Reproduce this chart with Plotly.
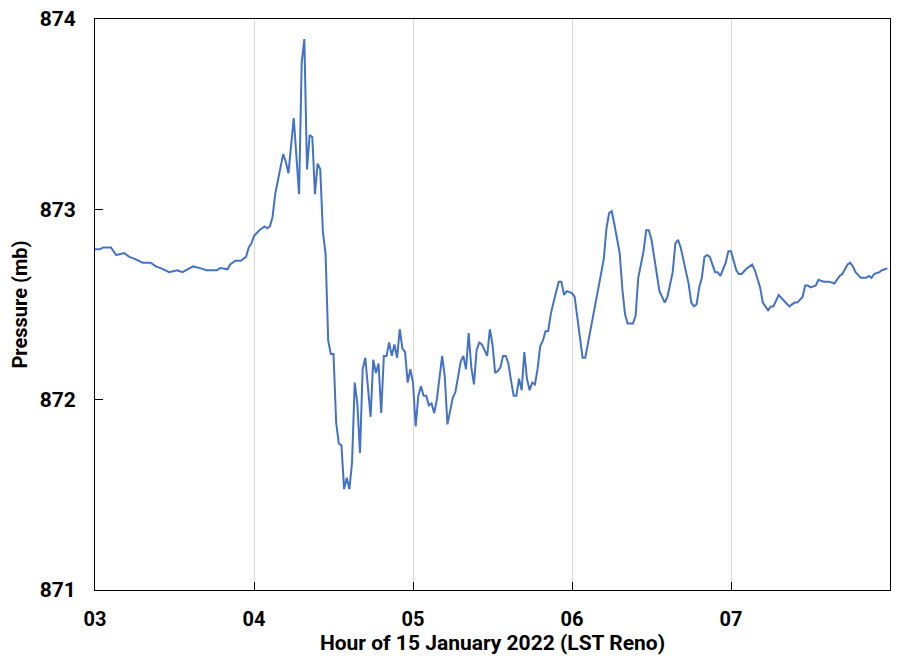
import plotly.graph_objects as go

# Minutes after 03:00 LST and station pressure (mb)
minutes = [0, 2, 3, 6, 8, 11, 13, 15, 18, 21, 23, 25, 28, 31, 33, 35, 37, 40, 42, 46,
           47, 48, 50, 51, 53, 55, 57, 58, 59, 60, 62, 64, 65, 66, 67, 68, 69, 71, 72, 73,
           75, 77, 78, 79, 80, 81, 82, 83, 84, 85, 86, 87, 88, 89, 90, 91, 92, 93, 94, 95,
           96, 97, 98, 99, 100, 101, 102, 104, 105, 106, 107, 108, 109, 110, 111, 112, 113,
           114, 115, 116, 117, 118, 119, 120, 121, 122, 123, 124, 125, 126, 127, 128, 129,
           131, 132, 133, 135, 136, 137, 138, 139, 140, 141, 142, 143, 144, 145, 146, 147,
           148, 149, 150, 151, 152, 153, 154, 155, 156, 157, 158, 159, 160, 161, 162, 163,
           164, 165, 166, 167, 168, 169, 170, 171, 172, 173, 174, 175, 176, 177, 178, 180,
           181, 182, 183, 184, 185, 186, 187, 188, 189, 190, 192, 193, 194, 195, 196, 198,
           199, 200, 201, 203, 204, 205, 207, 208, 209, 210, 211, 213, 214, 215, 216, 218,
           219, 220, 221, 222, 224, 225, 226, 227, 228, 229, 230, 231, 232, 234, 235, 236,
           237, 238, 239, 240, 241, 242, 243, 244, 246, 248, 249, 251, 252, 254, 255, 256,
           258, 260, 262, 264, 265, 267, 268, 269, 270, 272, 273, 275, 277, 279, 281, 282,
           284, 285, 286, 287, 289, 291, 292, 293, 294, 296, 297, 299]

pressure = [872.79, 872.79, 872.80, 872.80, 872.76, 872.77, 872.75, 872.74, 872.72, 872.72,
            872.70, 872.69, 872.67, 872.68, 872.67, 872.685, 872.70, 872.69, 872.68, 872.68,
            872.69, 872.69, 872.685, 872.71, 872.73, 872.73, 872.75, 872.80, 872.82, 872.86,
            872.89, 872.91, 872.90, 872.91, 872.96, 873.08, 873.15, 873.29, 873.25, 873.19,
            873.48, 873.08, 873.77, 873.895, 873.21, 873.39, 873.38, 873.08, 873.24, 873.21,
            872.88, 872.77, 872.31, 872.24, 872.24, 871.88, 871.77, 871.76, 871.53, 871.59,
            871.53, 871.67, 872.09, 871.98, 871.72, 872.16, 872.22, 871.91, 872.21, 872.14,
            872.19, 871.93, 872.23, 872.23, 872.30, 872.23, 872.29, 872.22, 872.37, 872.27,
            872.25, 872.09, 872.16, 872.09, 871.86, 872.02, 872.07, 872.02, 872.02, 871.97,
            871.98, 871.93, 872.00, 872.23, 872.12, 871.87, 872.01, 872.04, 872.12, 872.20,
            872.23, 872.16, 872.35, 872.17, 872.08, 872.26, 872.30, 872.29, 872.26, 872.23,
            872.37, 872.29, 872.14, 872.15, 872.17, 872.23, 872.23, 872.19, 872.10, 872.02,
            872.02, 872.11, 872.05, 872.25, 872.11, 872.05, 872.09, 872.08, 872.16, 872.28,
            872.31, 872.36, 872.36, 872.45, 872.51, 872.56, 872.62, 872.62, 872.55, 872.57,
            872.56, 872.54, 872.43, 872.33, 872.22, 872.22, 872.29, 872.36, 872.45, 872.50,
            872.59, 872.74, 872.90, 872.98, 872.99, 872.92, 872.77, 872.58, 872.45, 872.40,
            872.40, 872.44, 872.64, 872.78, 872.89, 872.89, 872.84, 872.75, 872.57, 872.54,
            872.51, 872.54, 872.67, 872.82, 872.84, 872.80, 872.73, 872.61, 872.51, 872.49,
            872.50, 872.59, 872.64, 872.75, 872.76, 872.75, 872.67, 872.67, 872.65, 872.69,
            872.72, 872.78, 872.78, 872.73, 872.68, 872.66, 872.66, 872.69, 872.71, 872.68,
            872.59, 872.51, 872.47, 872.49, 872.49, 872.55, 872.52, 872.49, 872.51, 872.51,
            872.54, 872.60, 872.60, 872.59, 872.60, 872.63, 872.62, 872.62, 872.61, 872.65,
            872.66, 872.71, 872.72, 872.70, 872.67, 872.64, 872.64, 872.65, 872.64, 872.66,
            872.67, 872.68, 872.69]

hour_ticks = [3, 4, 5, 6, 7]
hour_labels = ["03", "04", "05", "06", "07"]
pressure_ticks = [871, 872, 873, 874]

hours = [3 + m / 60.0 for m in minutes]

fig = go.Figure()
fig.add_trace(go.Scatter(
    x=hours, y=pressure, mode="lines",
    line=dict(color="#4472C4", width=2),
    showlegend=False, hoverinfo="skip",
))

FONT = "Roboto, Arial, sans-serif"

fig.update_layout(
    width=902, height=652,
    margin=dict(l=87, r=20, t=11, b=70),
    paper_bgcolor="white", plot_bgcolor="white",
    font=dict(family=FONT, color="black"),
    xaxis=dict(
        range=[3, 8], tickvals=hour_ticks, ticktext=hour_labels,
        automargin=False,
        showgrid=True, gridcolor="#D9D9D9", gridwidth=1,
        showline=True, linecolor="black", linewidth=1, mirror=True,
        ticks="inside", ticklen=8, tickcolor="black",
        tickfont=dict(family=FONT, size=20, color="black", weight="bold"),
        ticklabelstandoff=11,
        ticklabeloverflow="allow",
        zeroline=False,
        title=dict(text="Hour of 15 January 2022 (LST Reno)",
                   font=dict(family=FONT, size=21, color="black", weight="bold"),
                   standoff=2),
    ),
    yaxis=dict(
        range=[871, 874], tickvals=pressure_ticks,
        automargin=False,
        showgrid=False, zeroline=False,
        showline=True, linecolor="black", linewidth=1, mirror=True,
        ticks="inside", ticklen=8, tickcolor="black",
        tickfont=dict(family=FONT, size=21, color="black", weight="bold"),
        ticklabelstandoff=14,
        ticklabeloverflow="allow",
        title=dict(text="Pressure (mb)",
                   font=dict(family=FONT, size=20, color="black", weight="bold"),
                   standoff=10),
    ),
)

fig.write_html("out.html")
